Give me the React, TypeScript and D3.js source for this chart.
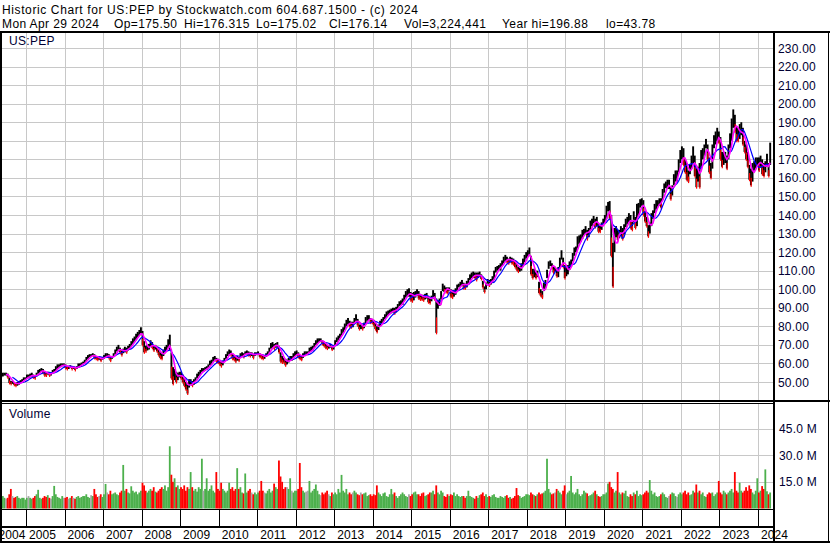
import React from "react";
import * as d3 from "d3";

// ---------- DATA (semi-monthly periods, May 2004 .. Apr 2024) ----------
const startYear = 2004;
const startMonth = 4; // May (0-based)

const priceLows: number[] = [
  // 2004 (May-Dec)
  52.5,53,53.5,53.5,52.5,49.5,49,49,48.5,48,48,48.5,49.5,49.5,51,51.5,
  // 2005
  52,52,52.5,53,52.5,52,53,54.5,55,56,55,53.5,53.5,54,53.5,53.5,54.5,55.5,56,57,57.5,58,58.5,58.5,
  // 2006
  57.5,57,57,57.5,57,57,56.5,57,58,58.5,59,59.5,60,61.5,62.5,63.5,63.5,64,63,62.5,62,62,61.5,62,
  // 2007
  62.5,63.5,63.5,63,61.5,62.5,63.5,65,66.5,67.5,66,64.5,65.5,66,66,67,68,69.5,70.5,71.5,72.5,74,75,76,
  // 2008
  70,66,66.5,67,67.5,69,68.5,67,67.5,66.5,64.5,63,62.5,64,66,67,68.5,67,52,49,51,50,51,52.5,
  // 2009
  52,50,48,46,43.8,47,48.5,48,48.5,50.5,52,53,54,55.5,55.5,56,56.5,57.5,59,59.5,61,62,61,60.5,
  // 2010
  59.5,58.5,59,61,62.5,64,65,64.5,62.5,62,61,61.5,61.5,63,64,63.5,64.5,65,64.5,64,64,63,64,64.5,
  // 2011
  64.5,63.5,63,62.5,62.5,63.5,64.5,66,68,68.5,68,68.5,68.5,66,61,60.5,60.5,59,59.5,60.5,61.5,61.5,63,64,
  // 2012
  64.5,63.5,62.5,62,63,64.5,64.5,64.5,66,66.5,67,68.5,70,71,71.5,71.5,70.5,69.5,68.5,68,68,68.5,67.5,67.5,
  // 2013
  69.5,71.5,72.5,73.5,75,76.5,78,80,81,80,79.5,79.5,81.5,83,80.5,78.5,78.5,78.5,79,81.5,83,83.5,82,82,
  // 2014
  80.5,78.5,77,78,80,81.5,82.5,84,85,86,86.5,87,87.5,87,87.5,89,91,91.5,91.5,93.5,95.5,96.5,96,94,
  // 2015
  93.5,94,95.5,96.5,95,94.5,94.5,94,94.5,95,93,92.5,93.5,95,94.5,76.5,89.5,91,94.5,99,98.5,98.5,98,99,
  // 2016
  96,95.5,96,97,99,101,101.5,102,100.5,100.5,101,102.5,105,106,106,106,105,106,106.5,105.5,101,98.5,100,103,
  // 2017
  102,102.5,103.5,105,109,110,110.5,110,112.5,114,115,114.5,114,114.5,114,113.5,112,110.5,109.5,109.5,110,112,114.5,116.5,
  // 2018
  117.5,118,108,106,106.5,106,106.5,98,96.5,95.5,99,100.5,106,111,112.5,111.5,109,109.5,107,106.5,111,116,112,106,
  // 2019
  107,108,110.5,112,115,118,120,122,124.5,125.5,127,129,130,127,128,132,134,135.5,133.5,134,131,131,132,135,
  // 2020
  135.5,138,142,138,118,101.5,120,128,126.5,127.5,128.5,127,129.5,133.5,135,136,133,132,136,133,134,140,144,145,
  // 2021
  140,136.5,134,128.5,130,134,138,141,143,144.5,145,144,148,152,154.5,154,154,148.5,150.5,156,158,158,163,168,
  // 2022
  170,167,163,159,158,162,165,168,161,155,158,155,165,170,172,176,170,163,160,165,176,178,180,179,
  // 2023
  170,166,167,168,165,170,176,180,187,185,180,180,181,183,178,174,170,166,159,156,158,163,165,166,
  // 2024 (Jan-Apr)
  164,166,162,161,163,166,161,167,
];

const priceHighs: number[] = [
  // 2004
  54.5,55,55,55,54.5,52.5,50.5,50.5,50,49.5,50,50.5,51,51.5,52.5,52.5,
  // 2005
  54,54,54.5,55,54,53.5,55,56.5,57,57.5,57,55.5,55,55.5,55,55,56.5,57,58.5,59.5,59.5,60,60,60,
  // 2006
  59.5,58.5,58.5,59,58.5,58.5,58,58.5,60,60,60.5,61,62,63.5,64.5,65,65,65.5,65,64,63.5,63.5,63,63.5,
  // 2007
  64.5,65.5,65.5,65,63.5,64,65.5,67.5,69,70,68.5,67,68,69,68.5,69.5,70.5,72,73.5,74.5,76,77,78,79.5,
  // 2008
  77.5,72,69.5,70,70.5,72.5,71.5,70,70,69,68,66,65.5,67.5,69,70,73,75.5,66,58,57,55.5,55,55.5,
  // 2009
  55.5,54,52,50,48.5,51.5,51.5,50.5,51.5,52.5,54.5,55.5,56.5,57.5,57.5,58,58.5,59.5,61.5,62,63.5,64,63,62.5,
  // 2010
  62,61,61.5,63,65,66.5,67.5,67,65.5,64.5,63.5,64,63.5,65.5,66,65.5,66.5,67,66.5,66,66,65,66,66,
  // 2011
  66.5,65.5,65,64.5,64.5,65.5,66.5,68.5,71,71.5,70.5,71,71.5,69.5,66,64,63,62.5,62,63,64,64,65.5,66.5,
  // 2012
  67,66,64.5,64,65.5,66.5,66.5,66.5,68.5,69,69.5,71,72.5,73.5,73.5,73.5,72.5,72,70.5,70,70,70.5,69.5,70,
  // 2013
  72.5,74,75,76,78.5,79.5,81.5,83.5,84.5,83,82.5,82.5,84.5,86.5,84,81,81,80.5,82,85,86,86,84.5,84,
  // 2014
  83.5,82,80,81,83,84,85,86.5,88,88.5,89,89.5,90,90,90.5,92,93.5,94,95,97,99,100,100.5,98.5,
  // 2015
  98,98.5,99,100,99,97.5,97,97,97.5,98,96.5,95.5,96.5,99.5,98,95,94,95,99,103,102,101,101,101,
  // 2016
  100,99.5,99.5,100.5,102.5,103,104,105,103.5,103,104.5,106,108,109,109.5,109,109,109,109.5,108,104.5,101.5,103.5,105.5,
  // 2017
  105,105.5,107,110,112,112.5,113,114,115.5,117.5,118.5,117.5,116.5,117.5,117,116.5,115.5,113.5,112,112.5,114,116.5,118.5,120,
  // 2018
  121,122.5,118,111,111,110,110,104,100,99,103.5,105,110.5,115,115.5,114,112.5,112,111,112,117,121,117,113,
  // 2019
  112,113,115,116,119.5,122.5,123,128.5,129,129.5,132,132.5,134,132,133,137,138,139.5,138,139,135.5,134.5,136,138,
  // 2020
  140,145,147,147.5,140,125,133,134,132,132,134,133,135,138,139,141,140,136.5,142,139,146,146.5,148.5,149,
  // 2021
  148,142,139,134.5,136,141,142.5,146,148,148,149,149,154,157,158,159,159,155,156,162,164,164,170,175,
  // 2022
  177,176,170,168,164,167,172,177,172,165,166,168,175,176,178,181,178,171,168,178,183,185,187,185,
  // 2023
  182,174,174,174,172,178,184,192,196.9,194,188,187,189,190,187,180,178,174,167,165,168,169,171,171,
  // 2024
  171,172,170,168,169,173,168,179,
];

// visible daily-volume peak of each half month, millions of shares
const volumes: number[] = [
  // 2004
  6,7,6,5.5,6,8,11,7,6,6.5,7,6,5.5,6,6,5,
  // 2005
  6,7,6,5.5,6,7,8,10.5,6,5.5,6,7,6.5,7.5,6,5.5,7,12.7,8,6.5,6,5.5,7,6,
  // 2006
  6,6.5,5.5,6,7,6,5.5,6.5,7,6,6.5,7,7,8,6.5,6,7.5,7,11,8,6.5,7,8,6.5,
  // 2007
  8,13.8,9,8,10,8,8.5,9,8,7.5,9,10,24.5,10,11,9,8.5,12.5,10,9,9.5,8,9,10,
  // 2008
  14.5,13,10,9,10,11,10,12,9.5,9,10,11,12,11,13,10,12,35,19,15,17,12,13,11,
  // 2009
  12,11,13,10,12,11,20.5,12,10,11,9.5,12,11,28,10,11,17,10,11,13,10,9,20.5,11,
  // 2010
  10,14.5,11,10,9,10,14.5,11,12,10,11,22.7,11,12,9,8.5,19.7,9,10,11,9,8,9,8,
  // 2011
  9,10,15.5,10,9,8.5,10,11,9,10,14,12,11,27,18,15,11,12,12,11,17,10,9,10,
  // 2012
  10,11,25.6,12,10,9,9.5,10,15.5,9,10,11,13.5,10,8,7.5,9,8,9,10,8,7,9,8,
  // 2013
  9,8,11,9,18.9,10,9,11,8,9,8,9,10,9,8,7.5,9,8,8.5,9,7,7.5,8,7,
  // 2014
  8,7.5,13,9,8,7,8.5,9,7,6.5,8,11,8,9,7,6,7,8,9,8,7,6.5,8,7,
  // 2015
  8,9,9.5,8,8,7,8.5,9,7,7.5,8,9,9,10,8,13,9,8,10,9,7,6.5,8,7,
  // 2016
  8,7.5,9,7,8,7,6.5,7,7,6,7,10,7,6.5,6,5.5,7,6,7.5,8,9,7,8,6.5,
  // 2017
  7,6.5,7.5,8,6.5,6,6,7,6.5,6,7,7.5,6,6.5,5.5,6,7,11.5,7.5,7,6,6.5,7,8,
  // 2018
  8,7.5,9,8,7.5,7,8,9,8,8.5,9,10,28,11,9,8,8.5,9,11,10,9,8,10,13,
  // 2019
  8,9,10,18.3,9,8,9,11,8,7,8,10,9,8.5,7,7.5,8,9,10,8,7,6.5,7,8,
  // 2020
  8,9,14,15,12,11,9,10,20.5,9,8,9,8.5,10,7,6.5,8,7,9,8,10,7,8,7.5,
  // 2021
  8,9,10,9,16,10,8,9,7,6.5,7,8,9,8,6.5,6,7,8,9,8.5,7,6.5,8,9,
  // 2022
  8,9,10,8,9,7.5,8,10,9,13.5,9,10,8,9,7,6.5,8,9,8.5,9,7,8,9,15.5,
  // 2023
  9,8,10,9,8,9,10,11,9,20.5,10,9,14.5,10,9,10,12,10,13,11,9,8,10,17,
  // 2024
  9,10,12.6,11,22,9.7,8,9,
];

const priceTicks: number[] = [50, 60, 70, 80, 90, 100, 110, 120, 130, 140, 150, 160, 170, 180, 190, 200, 210, 220, 230];
const volumeTicks: number[] = [15, 30, 45];
const yearLabels: number[] = [2004, 2005, 2006, 2007, 2008, 2009, 2010, 2011, 2012, 2013, 2014, 2015, 2016, 2017, 2018, 2019, 2020, 2021, 2022, 2023, 2024];

const titleLine1 = "Historic Chart for US:PEP by Stockwatch.com 604.687.1500 - (c) 2024";
const quoteFields: string[] = ["Mon Apr 29 2024", "Op=175.50", "Hi=176.315", "Lo=175.02", "Cl=176.14", "Vol=3,224,441", "Year hi=196.88", "lo=43.78"];
const quoteFieldX: number[] = [2, 114, 184, 256, 329, 404, 502, 606];
const symbol = "US:PEP";

// ---------- LAYOUT ----------
const W = 830;
const H = 543;
const PLOT_L = 2;
const AXIS_X = 774;
const PRICE_TOP = 33;
const PRICE_BOTTOM = 400;
const VOL_TOP = 404;
const VOL_BOTTOM = 509;
const FONT = "'Liberation Sans', Arial, sans-serif";

const periodTime = (i: number) =>
  startYear + (startMonth + Math.floor(i / 2) + 0.25 + 0.5 * (i % 2)) / 12;

const x = d3.scaleLinear().domain([2005, 2024]).range([26, 758]);
const yPrice = d3.scaleLinear().domain([50, 230]).range([382, 48]);
const yVol = d3.scaleLinear().domain([0, 45]).range([508.5, 428.5]);

const step = x(2005 + 1 / 24) - x(2005);

const mids = priceLows.map((lo, i) => (lo + priceHighs[i]) / 2);
const sma = (vals: number[], n: number) =>
  vals.map((_, i) => (i < n - 1 ? null : (d3.mean(vals.slice(i - n + 1, i + 1)) as number)));
const maFast = sma(mids, 4);
const maSlow = sma(mids, 8);

const maLine = d3
  .line<number | null>()
  .defined((d) => d != null)
  .x((_, i) => x(periodTime(i)))
  .y((d) => yPrice(d as number));

const ls = (v: number) => ({ letterSpacing: v + "px" });

export default function App() {
  const fmtP = d3.format(".2f");
  const fmtV = d3.format(".1f");
  const years = d3.range(2005, 2025);
  return (
    <svg
      width={W}
      height={H}
      style={{ position: "absolute", left: 0, top: 0, display: "block", background: "#fff" }}
      fontFamily={FONT}
    >
      <defs>
        <clipPath id="clipPrice">
          <rect x={PLOT_L} y={PRICE_TOP} width={AXIS_X - 1 - PLOT_L} height={PRICE_BOTTOM - PRICE_TOP} />
        </clipPath>
        <clipPath id="clipVol">
          <rect x={PLOT_L} y={VOL_TOP} width={AXIS_X - 1 - PLOT_L} height={VOL_BOTTOM - VOL_TOP} />
        </clipPath>
      </defs>
      <rect x={0} y={0} width={W} height={H} fill="#fff" />

      {/* header */}
      <text x={2} y={14} fontSize={12} fill="#000" textLength={416} lengthAdjust="spacing">
        {titleLine1}
      </text>
      {quoteFields.map((f, i) => (
        <text key={"q" + i} x={quoteFieldX[i]} y={27.5} fontSize={12} fill="#000" style={ls(0.4)}>
          {f}
        </text>
      ))}

      {/* grid */}
      <g stroke="#c8c8c8" strokeWidth={1} shapeRendering="crispEdges">
        {priceTicks.map((t) => (
          <line key={"hp" + t} x1={PLOT_L} x2={AXIS_X - 1} y1={Math.round(yPrice(t)) + 0.5} y2={Math.round(yPrice(t)) + 0.5} />
        ))}
        {volumeTicks.map((t) => (
          <line key={"hv" + t} x1={PLOT_L} x2={AXIS_X - 1} y1={Math.round(yVol(t)) + 0.5} y2={Math.round(yVol(t)) + 0.5} />
        ))}
        {years.map((yr) => (
          <g key={"vg" + yr}>
            <line x1={Math.round(x(yr)) + 0.5} x2={Math.round(x(yr)) + 0.5} y1={PRICE_TOP} y2={PRICE_BOTTOM} />
            <line x1={Math.round(x(yr)) + 0.5} x2={Math.round(x(yr)) + 0.5} y1={VOL_TOP} y2={VOL_BOTTOM} />
          </g>
        ))}
      </g>

      {/* price bars */}
      <g clipPath="url(#clipPrice)">
        {priceLows.map((lo, i) => {
          const cx = x(periodTime(i));
          const hi = priceHighs[i];
          return (
            <rect key={"b" + i} x={cx - step / 2} width={step + 0.3} y={yPrice(hi)} height={Math.max(1, yPrice(lo) - yPrice(hi))} fill="#000" />
          );
        })}
        {priceLows.map((lo, i) => {
          if (i === 0 || mids[i] >= mids[i - 1]) return null;
          const cx = x(periodTime(i));
          const hi = priceHighs[i];
          const yb = yPrice(lo);
          const h = Math.max(2, (yPrice(lo) - yPrice(hi)) * 0.45);
          return <rect key={"r" + i} x={cx - 0.2} width={1.2} y={yb - h} height={h + 1.5} fill="#ff0000" />;
        })}
        <path d={maLine(maSlow) || ""} fill="none" stroke="#0000ff" strokeWidth={1.2} />
        <path d={maLine(maFast) || ""} fill="none" stroke="#ff00ff" strokeWidth={1.6} />
      </g>

      {/* volume bars */}
      <g clipPath="url(#clipVol)">
        {volumes.map((v, i) => {
          const cx = x(periodTime(i));
          const diff = i === 0 ? 0 : mids[i] - mids[i - 1];
          const col = Math.abs(diff) < 0.05 ? "#a8a8a8" : diff > 0 ? "#4cb04c" : "#ff0000";
          return (
            <rect key={"v" + i} x={cx - step / 2} width={step + 0.2} y={yVol(v)} height={yVol(0) - yVol(v)} fill={col} />
          );
        })}
      </g>

      {/* labels inside panels */}
      <text x={9} y={45} fontSize={12} fill="#000033" style={ls(0.3)}>{symbol}</text>
      <text x={9} y={418} fontSize={12} fill="#000033" style={ls(0.3)}>Volume</text>

      {/* right axis labels */}
      {priceTicks.map((t) => (
        <text key={"pl" + t} x={778} y={yPrice(t) + 4.5} fontSize={12} fill="#000033" style={ls(0.2)}>
          {fmtP(t)}
        </text>
      ))}
      {volumeTicks.map((t) => (
        <text key={"vl" + t} x={779} y={yVol(t) + 4.5} fontSize={12} fill="#000033" style={ls(0.2)}>
          {fmtV(t) + " M"}
        </text>
      ))}

      {/* frame lines */}
      <g stroke="#000" shapeRendering="crispEdges">
        <line x1={0} x2={W} y1={32} y2={32} strokeWidth={2} />
        <line x1={1} x2={1} y1={31} y2={542} strokeWidth={2} />
        <line x1={AXIS_X} x2={AXIS_X} y1={31} y2={542} strokeWidth={2} />
        <line x1={828.5} x2={828.5} y1={31} y2={542} strokeWidth={1} />
        <line x1={0} x2={W} y1={401} y2={401} strokeWidth={2} />
        <line x1={0} x2={AXIS_X} y1={403.5} y2={403.5} strokeWidth={1} />
        <line x1={0} x2={AXIS_X} y1={509.5} y2={509.5} strokeWidth={1} />
        <line x1={0} x2={AXIS_X} y1={527} y2={527} strokeWidth={2} />
        <line x1={0} x2={W} y1={541.5} y2={541.5} strokeWidth={2} />
        {years.map((yr) => (
          <line key={"tk" + yr} x1={Math.round(x(yr)) + 0.5} x2={Math.round(x(yr)) + 0.5} y1={510} y2={527} strokeWidth={1} />
        ))}
      </g>

      {/* year labels */}
      {yearLabels.map((yr) => (
        <text key={"y" + yr} x={yr === 2004 ? -1.5 : x(yr) + 3} y={539} fontSize={12} fill="#000" style={ls(0.1)}>
          {yr}
        </text>
      ))}
    </svg>
  );
}
